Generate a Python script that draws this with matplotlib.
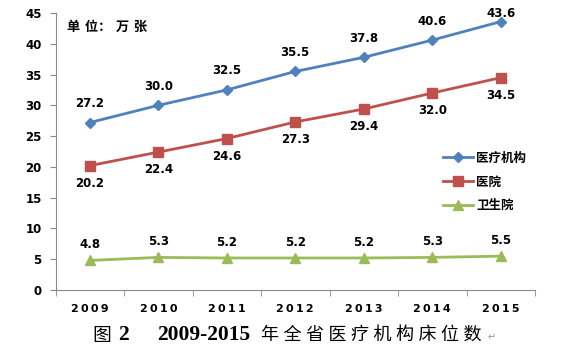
import matplotlib
matplotlib.use("Agg")
import matplotlib.pyplot as plt
import numpy as np

plt.rcParams['font.family'] = ['DejaVu Sans', 'Noto Sans CJK SC']

years = ['2009', '2010', '2011', '2012', '2013', '2014', '2015']
total = [27.2, 30.0, 32.5, 35.5, 37.8, 40.6, 43.6]
hospital = [20.2, 22.4, 24.6, 27.3, 29.4, 32.0, 34.5]
health = [4.8, 5.3, 5.2, 5.2, 5.2, 5.3, 5.5]
series_names = ['医疗机构', '医院', '卫生院']

fig = plt.figure(figsize=(5.66, 3.6), dpi=100)
ax = fig.add_axes([55.5 / 566, 70 / 360, (535 - 55.5) / 566, 277 / 360])

x = np.arange(len(years))
c_blue, c_red, c_green = '#4F81BD', '#C0504D', '#9BBB59'
ax.plot(x, total, color=c_blue, lw=2, marker='D', ms=5.5, label=series_names[0], clip_on=False)
ax.plot(x, hospital, color=c_red, lw=2, marker='s', ms=6.5, label=series_names[1], clip_on=False)
ax.plot(x, health, color=c_green, lw=2, marker='^', ms=7.5, label=series_names[2], clip_on=False)

lab_kw = dict(ha='center', fontsize=8.5, fontweight='bold', color='black')
for i, (xi, v) in enumerate(zip(x, total)):
    off = 9 if i < len(total) - 1 else 1.5
    ax.annotate(f'{v:.1f}', (xi, v), xytext=(0, off), textcoords='offset points', va='bottom', **lab_kw)
for xi, v in zip(x, hospital):
    ax.annotate(f'{v:.1f}', (xi, v), xytext=(0, -8), textcoords='offset points', va='top', **lab_kw)
for xi, v in zip(x, health):
    ax.annotate(f'{v:.1f}', (xi, v), xytext=(0, 6.5), textcoords='offset points', va='bottom', **lab_kw)

ax.set_xlim(-0.5, len(years) - 0.5)
ax.set_ylim(0, 45)
ax.set_yticks(np.arange(0, 46, 5))
ax.set_yticklabels([str(v) for v in range(0, 46, 5)], fontsize=8.5, fontweight='bold')
ax.set_xticks(x)
ax.set_xticklabels(['\u2009'.join(y) for y in years], fontsize=8, fontweight='bold')
ax.set_xticks(np.arange(-0.5, len(years) + 0.5, 1), minor=True)
ax.tick_params(axis='x', which='major', length=0, pad=10)
ax.tick_params(axis='x', which='minor', length=4, color='#888888', direction='out')
ax.tick_params(axis='y', length=4, color='#888888', direction='out', pad=6)

for s in ['top', 'right']:
    ax.spines[s].set_visible(False)
for s in ['left', 'bottom']:
    ax.spines[s].set_color('#888888')

fig.text(67 / 566, 1 - 27 / 360, '单 位： 万 张', fontsize=9.5, fontweight='bold',
         family=['DejaVu Sans', 'Noto Sans CJK SC'], va='center', ha='left')

leg = ax.legend(loc='center left', bbox_to_anchor=(0.785, 0.39), frameon=False,
                prop={'family': 'Noto Sans CJK SC', 'weight': 'bold', 'size': 9},
                handlelength=2.4, labelspacing=0.85, handletextpad=0.25)

cy = 1 - 335 / 360
fig.text(92 / 566, cy, '图', ha='left', va='center', fontsize=13.5,
         family=['Noto Sans CJK SC'], fontweight='medium')
fig.text(118 / 566, cy, '2', ha='left', va='center', fontsize=15.5, fontweight='bold',
         family=['Liberation Serif'])
fig.text(157 / 566, cy, '2009-2015', ha='left', va='center', fontsize=15.5, fontweight='bold',
         family=['Liberation Serif'])
fig.text(261 / 566, cy, '年 全 省 医 疗 机 构 床 位 数', ha='left', va='center', fontsize=13,
         family=['Liberation Serif', 'Noto Sans CJK SC'], fontweight='medium')
fig.text(488 / 566, 1 - 337 / 360, '↵', ha='left', va='center', fontsize=7, color='#999999')

fig.savefig('out.png', dpi=100)
